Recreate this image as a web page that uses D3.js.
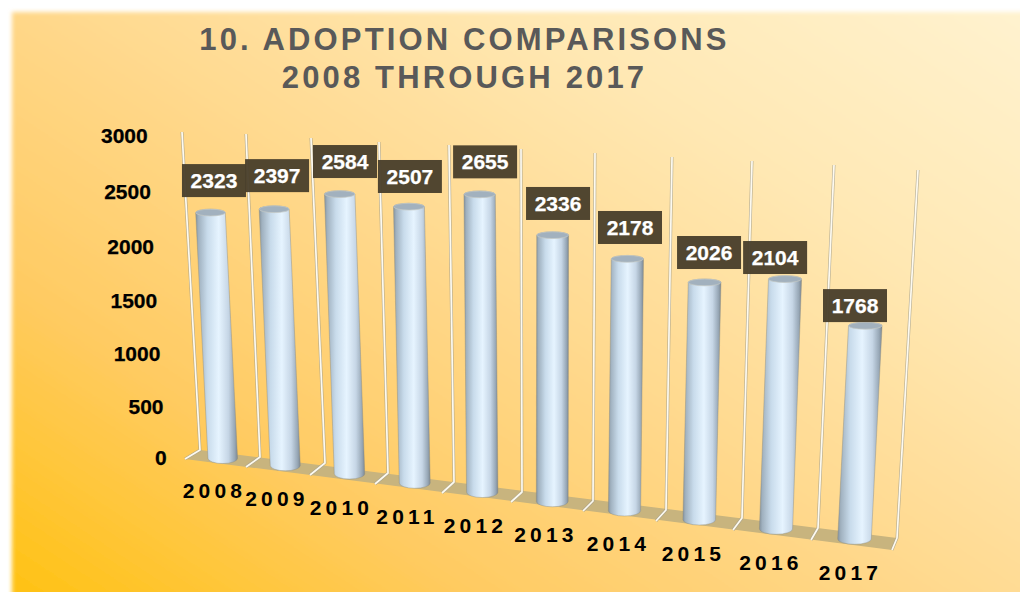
<!DOCTYPE html>
<html><head><meta charset="utf-8">
<script src="https://cdn.jsdelivr.net/npm/d3@7/dist/d3.min.js"></script>
<style>html,body{margin:0;padding:0;background:#fff;overflow:hidden}svg{display:block}
text{font-family:"Liberation Sans",Arial,sans-serif;font-weight:700}</style></head>
<body><svg id="chart" width="1020" height="592"></svg>
<script>
const titleLines = ["10. ADOPTION COMPARISONS", "2008 THROUGH 2017"];
const years = ["2008","2009","2010","2011","2012","2013","2014","2015","2016","2017"];
const adoptions = [2323,2397,2584,2507,2655,2336,2178,2026,2104,1768];
const yTicks = [0,500,1000,1500,2000,2500,3000];

// Perspective frame of the 3D plot, one knot per category boundary
const knots = d3.range(11);
const backX  = d3.scaleLinear().domain(knots).range([200,260,325,388,454,522,593,666,742,818,897]);
const backY  = d3.scaleLinear().domain(knots).range([450,457,463,473,482,492,501,510,518,528,538]);
const frontX = d3.scaleLinear().domain(knots).range([185,246,310,375,442,511,583,656,733,811,892]);
const frontY = d3.scaleLinear().domain(knots).range([459,467,475,484,493,502,511,521,530,540,550]);
const topX   = d3.scaleLinear().domain(knots).range([182,246,311,379,449,521,595,672,752,834,918]);
const topY   = d3.scaleLinear().domain(knots).range([132,134,138,142,145,149,153,157,161,165,170]);
const value  = d3.scaleLinear().domain([0,3000]).range([0,1]);
const radius = d3.scaleLinear().domain([0,9]).range([14.8,16.8]);
const tickLabelX = d3.scaleLinear().domain([0,3000]).range([166.7,147.7]);
const tickLabelY = d3.scaleOrdinal().domain(yTicks).range([457.3,406.7,353.3,300.7,246.7,191.7,135.7]);

// Per-label placement of the value boxes relative to the top of their column
const boxNudgeX = [3.6,3,5.4,1,5.5,5.4,2.6,4.4,-10,-10.4];
const boxNudgeY = [-29.5,-31,-29.7,-27.4,-29.5,-29,-28.8,-27.5,-19,-18];

function project(i, d, v){
  const bx = backX(i), by = backY(i), fx = frontX(i), fy = frontY(i);
  const k = value(v);
  return [bx + (fx-bx)*d + (topX(i)-bx)*k, by + (fy-by)*d + (topY(i)-by)*k];
}

const svg = d3.select("#chart");
const defs = svg.append("defs");

const bg = defs.append("linearGradient").attr("id","bg").attr("gradientUnits","userSpaceOnUse")
  .attr("x1",12).attr("y1",592).attr("x2",581).attr("y2",-267);
[[0,"#FFC214"],[0.25,"#FFCB62"],[0.5,"#FFD98E"],[0.75,"#FFE8B4"],[1,"#FFF2CE"]].forEach(s =>
  bg.append("stop").attr("offset",s[0]).attr("stop-color",s[1]));
defs.append("filter").attr("id","edge").attr("x","-5%").attr("y","-5%").attr("width","110%").attr("height","110%")
  .append("feGaussianBlur").attr("stdDeviation",2.2);
defs.append("filter").attr("id","soft").attr("x","-10%").attr("y","-10%").attr("width","120%").attr("height","120%")
  .append("feGaussianBlur").attr("stdDeviation",0.45);

const cyl = defs.append("linearGradient").attr("id","cyl").attr("x1",0).attr("x2",1).attr("y1",0).attr("y2",0);
[[0,"#8493a0"],[0.07,"#a0b1bf"],[0.28,"#c8dbeb"],[0.55,"#e6f4ff"],[0.78,"#c6d6e6"],[0.93,"#98a8b7"],[1,"#7c8893"]].forEach(s =>
  cyl.append("stop").attr("offset",s[0]).attr("stop-color",s[1]));

svg.append("rect").attr("x",12).attr("y",12).attr("width",1060).attr("height",640)
  .attr("fill","url(#bg)").attr("filter","url(#edge)");

// Title
svg.append("g").selectAll("text").data(titleLines).join("text")
  .attr("x",464.5).attr("y",(d,i)=>50+i*38).attr("text-anchor","middle")
  .attr("font-size",31).attr("letter-spacing",3.15).attr("fill","#595959").text(d=>d);

// Y labels
svg.append("g").selectAll("text").data(yTicks).join("text")
  .attr("x",d=>tickLabelX(d)).attr("y",d=>tickLabelY(d)).attr("dy","0.35em")
  .attr("text-anchor","end").attr("font-size",21).attr("fill","#000")
  .attr("stroke","#000").attr("stroke-width",0.25).text(d=>d);

// Floor
const floorPts = [project(0,0,0),project(10,0,0),project(10,1,0),project(0,1,0)];
svg.append("polygon").attr("points",floorPts.join(" ")).attr("fill","#c8b47e").attr("filter","url(#soft)");

// Gridlines
const gridPath = i => d3.line()([project(i,0,3000),project(i,0,0),project(i,1,0)]);
const grid = svg.append("g").attr("fill","none").attr("stroke-linejoin","round").attr("filter","url(#soft)");
grid.selectAll(".g1").data(knots).join("path").attr("class","g1").attr("d",gridPath)
  .attr("stroke","#a8a28f").attr("stroke-width",3).attr("stroke-opacity",0.8);
grid.selectAll(".g2").data(knots).join("path").attr("class","g2").attr("d",gridPath)
  .attr("stroke","#fdfaf0").attr("stroke-width",1.7);

// Columns
const columns = svg.append("g").attr("filter","url(#soft)");
const capDrop = 0.99;
adoptions.forEach((v,i)=>{
  const c = i + 0.5, r = radius(i);
  const b = project(c,0.5,0), t = project(c,0.5,v*capDrop);
  const ryB = 5.3, ryT = 3.4;
  columns.append("path")
    .attr("d",`M${t[0]-r},${t[1]} L${b[0]-r},${b[1]} A${r},${ryB} 0 0 0 ${b[0]+r},${b[1]} L${t[0]+r},${t[1]} A${r},${ryT} 0 0 0 ${t[0]-r},${t[1]} Z`)
    .attr("fill","url(#cyl)").attr("stroke","#8d8a7a").attr("stroke-opacity",0.5).attr("stroke-width",0.8);
  columns.append("ellipse").attr("cx",t[0]).attr("cy",t[1]).attr("rx",r).attr("ry",ryT)
    .attr("fill","#a2b1be").attr("stroke","#c4c8c4").attr("stroke-width",0.7);
});

// Value labels
const boxes = svg.append("g");
adoptions.forEach((v,i)=>{
  const t = project(i+0.5,0.5,v);
  const cx = t[0]+boxNudgeX[i], cy = t[1]+boxNudgeY[i];
  boxes.append("rect").attr("x",cx-32).attr("y",cy-16.5).attr("width",64).attr("height",33)
    .attr("fill","#4a3f2c").attr("fill-opacity",0.96);
  boxes.append("text").attr("x",cx).attr("y",cy).attr("dy","0.35em").attr("text-anchor","middle")
    .attr("font-size",21).attr("fill","#fff").attr("stroke","#fff").attr("stroke-width",0.25).text(v);
});

// Category labels
svg.append("g").selectAll("text").data(years).join("text")
  .attr("x",(d,i)=>frontX(i+0.5)-1).attr("y",(d,i)=>frontY(i+0.5)+28).attr("dy","0.35em")
  .attr("text-anchor","middle").attr("font-size",21).attr("letter-spacing",4.2).attr("fill","#000").text(d=>d);
</script></body></html>
